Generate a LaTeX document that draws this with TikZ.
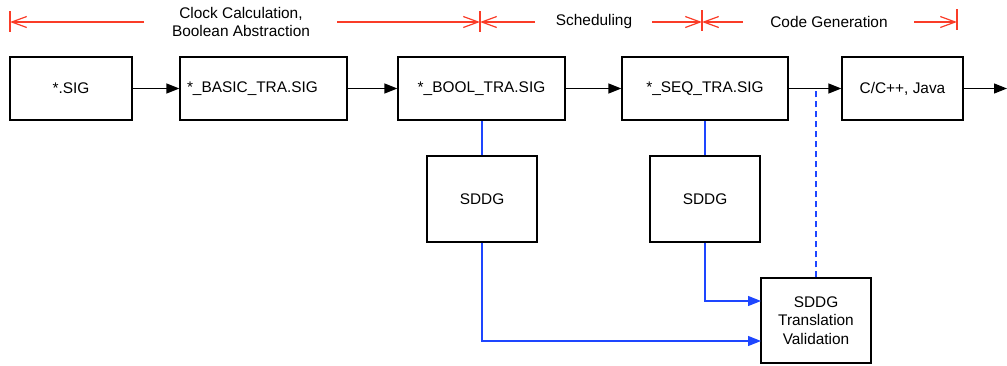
\documentclass[tikz,border=0pt]{standalone}
\usepackage{fontspec}
\setmainfont{Liberation Sans}
\usetikzlibrary{arrows.meta}
\definecolor{dimred}{RGB}{250,60,40}
\definecolor{lnblue}{RGB}{30,70,255}
\begin{document}
\begin{tikzpicture}[x=1pt,y=-1pt,
  font=\fontsize{15.4}{18.5}\selectfont,
  box/.style={draw=black,line width=1.3pt,inner sep=0pt,align=center},
  blk/.style={line width=1.3pt,-{Triangle[length=13pt,width=10pt]}},
  blu/.style={draw=lnblue,line width=1.3pt,-{Triangle[length=13pt,width=10pt]}},
  blul/.style={draw=lnblue,line width=1.3pt},
  dim/.style={draw=dimred,line width=1.2pt,-{Straight Barb[length=15pt,width=11pt]}},
  tick/.style={draw=dimred,line width=1.2pt},
  lbl/.style={inner sep=0pt,align=center}]
\useasboundingbox (0,0) rectangle (1007,365);

% top labels
\node[lbl] (l1) at (241,22) {Clock Calculation,\\Boolean Abstraction};
\node[lbl] (l2) at (594,22) {Scheduling};
\node[lbl] (l3) at (829,22) {Code Generation};

\coordinate (a0) at (10,22);
\coordinate (a1) at (144,22);
\coordinate (b0) at (337,22);
\coordinate (b1) at (480,22);
\coordinate (c0) at (535,22);
\coordinate (d0) at (652,22);
\coordinate (d1) at (702,22);
\coordinate (e0) at (743,22);
\coordinate (f0) at (914,22);
\coordinate (f1) at (957,22);

\draw[dim] (a1) -- (a0);
\draw[dim] (b0) -- (b1);
\draw[dim] (c0) -- (b1);
\draw[dim] (d0) -- (d1);
\draw[dim] (e0) -- (d1);
\draw[dim] (f0) -- (f1);
\draw[tick] (10,11) -- (10,32);
\draw[tick] (480,11) -- (480,32);
\draw[tick] (702,10) -- (702,31);
\draw[tick] (957,9) -- (957,30);

% main boxes
\node[box,minimum width=122pt,minimum height=63pt] (sig) at (71,88.5) {*.SIG};
\node[box,minimum width=167pt,minimum height=63pt,text width=153pt,inner xsep=7pt,align=left] (basic) at (263.5,88.5) {*\_BASIC\_TRA.SIG};
\node[box,minimum width=167pt,minimum height=63pt] (bool) at (481.5,88.5) {*\_BOOL\_TRA.SIG};
\node[box,minimum width=166pt,minimum height=63pt] (seq) at (705,88.5) {*\_SEQ\_TRA.SIG};
\node[box,minimum width=121pt,minimum height=63pt] (cc) at (902.5,88.5) {C/C++, Java};
\coordinate (out) at (1007,88.5);

\node[box,minimum width=110pt,minimum height=86pt] (sd1) at (482,199) {SDDG};
\node[box,minimum width=110pt,minimum height=86pt] (sd2) at (705,199) {SDDG};
\node[box,minimum width=110pt,minimum height=85pt] (tv) at (816,320.5) {SDDG\\Translation\\Validation};

\coordinate (tvin1) at (761,301);
\coordinate (tvin2) at (761,341);

\draw[blk] (sig.east) -- (basic.west);
\draw[blk] (basic.east) -- (bool.west);
\draw[blk] (bool.east) -- (seq.west);
\draw[blk] (seq.east) -- (cc.west);
\draw[blk] (cc.east) -- (out);

\draw[blul] (sd1.north) -- (sd1.north |- bool.south);
\draw[blul] (sd2.north) -- (sd2.north |- seq.south);
\draw[blu] (sd1.south) |- (tvin2);
\draw[blu] (sd2.south) |- (tvin1);
\draw[blul,dashed,dash pattern=on 6pt off 4pt] (tv.north) -- (tv.north |- seq.east);
\end{tikzpicture}
\end{document}
